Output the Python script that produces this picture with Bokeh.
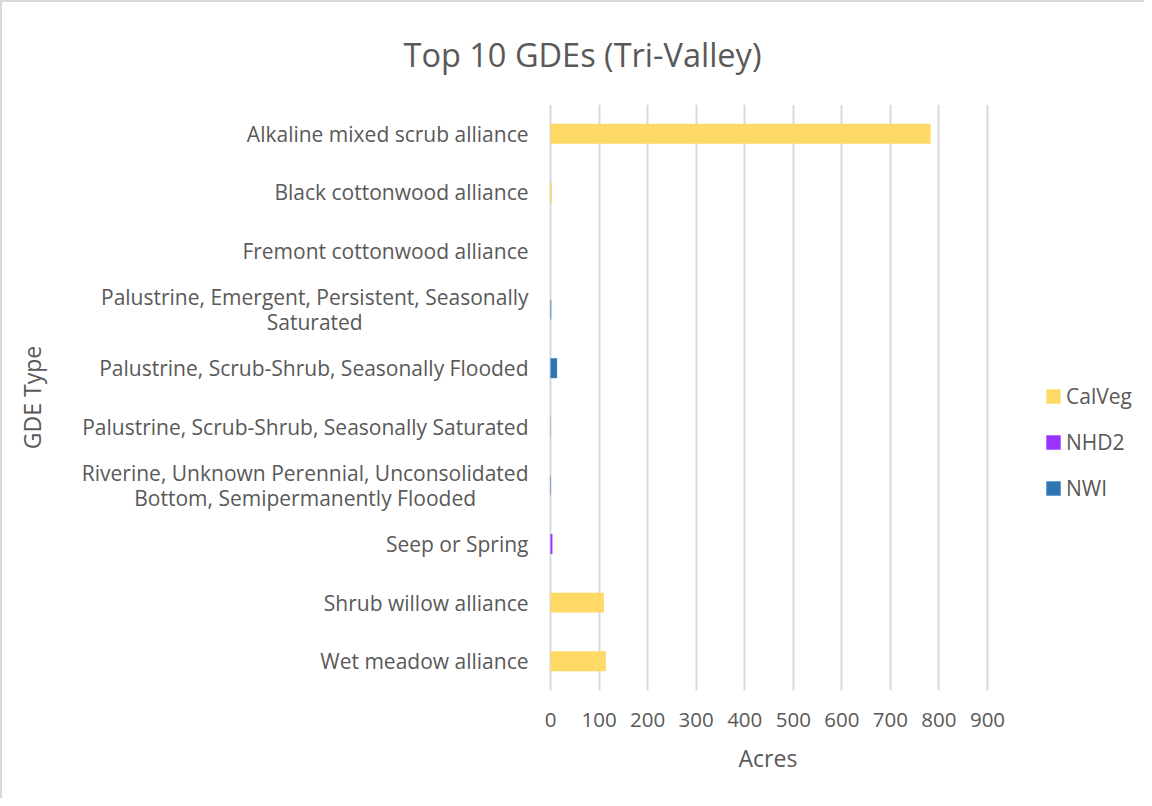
import math
from bokeh.plotting import figure
from bokeh.models import ColumnDataSource, FactorRange, Title, Legend, LegendItem, FixedTicker, Label
from bokeh.embed import file_html
from bokeh.resources import INLINE

categories = [
    "Alkaline mixed scrub alliance",
    "Black cottonwood alliance",
    "Fremont cottonwood alliance",
    "Palustrine, Emergent, Persistent, Seasonally\nSaturated",
    "Palustrine, Scrub-Shrub, Seasonally Flooded",
    "Palustrine, Scrub-Shrub, Seasonally Saturated",
    "Riverine, Unknown Perennial, Unconsolidated\nBottom, Semipermanently Flooded",
    "Seep or Spring",
    "Shrub willow alliance",
    "Wet meadow alliance",
]
calveg = [783, 3, 0.5, 0, 0, 0, 0, 0, 110, 114]
nhd2 = [0, 0, 0, 0, 0, 0, 0, 4, 0, 0]
nwi = [0, 0, 0, 1.5, 13.5, 0.5, 1, 0, 0, 0]
series = ["CalVeg", "NHD2", "NWI"]
colors = ["#FFD966", "#9933FF", "#2E75B6"]
x_ticks = [0, 100, 200, 300, 400, 500, 600, 700, 800, 900]

FONT = "Open Sans"
GREY = "#595959"

src = ColumnDataSource(dict(cat=categories, CalVeg=calveg, NHD2=nhd2, NWI=nwi))
ordered = list(reversed(categories))

# layout: the frame spans the full width; the value axis 0..900 covers 437 px
FIG_W = 1144
ZERO_PX = 548          # pixel offset of value 0 from the frame's left edge
AXIS_W = 437
UNIT = 900 / AXIS_W    # data units per pixel
x_start = -ZERO_PX * UNIT
x_end = (FIG_W - ZERO_PX) * UNIT

p = figure(
    width=FIG_W, height=798,
    y_range=FactorRange(*ordered, range_padding=0),
    x_range=(x_start, x_end),
    output_backend="svg", toolbar_location=None,
    min_border_left=0, min_border_right=0, min_border_top=101, min_border_bottom=110,
)
p.outline_line_color = None
p.background_fill_color = "white"

renderers = p.hbar_stack(series, y="cat", height=0.34, color=colors, source=src, line_color=None)

p.title = Title(text="Top 10 GDEs (Tri-Valley)", align="left", offset=ZERO_PX - 147,
                text_font=FONT, text_font_size="32.5px", text_font_style="normal",
                text_color=GREY, standoff=55)

p.xaxis.ticker = FixedTicker(ticks=x_ticks)
p.xaxis.axis_line_color = None
p.xaxis.major_tick_line_color = None
p.xaxis.minor_tick_line_color = None
p.xaxis.major_label_text_font = FONT
p.xaxis.major_label_text_font_size = "20.5px"
p.xaxis.major_label_text_color = GREY
p.xaxis.major_label_standoff = 16

p.add_layout(Title(text="Acres", align="left", offset=ZERO_PX + 188, text_font=FONT,
                   text_font_size="23px", text_font_style="normal", text_color=GREY,
                   standoff=20), "below")

p.yaxis.visible = False

# category labels: block right-aligned 22 px left of zero, lines centred
for c in categories:
    p.add_layout(Label(x=-22 * UNIT, y=ordered.index(c) + 0.5, text=c,
                       anchor="center_right", text_align="center",
                       text_font=FONT, text_font_size="21px", text_color=GREY,
                       text_line_height=0.91))

p.add_layout(Label(x=-(550 - 31) * UNIT, y=len(categories) / 2, text="GDE Type",
                   angle=math.pi / 2, text_align="center", text_baseline="middle",
                   text_font=FONT, text_font_size="23px", text_color=GREY))

p.xgrid.grid_line_color = "#D9D9D9"
p.xgrid.grid_line_width = 2
p.ygrid.grid_line_color = None

legend = Legend(items=[LegendItem(label=s, renderers=[r]) for s, r in zip(series, renderers)],
                location=(ZERO_PX + 494, 188), orientation="vertical", border_line_color=None,
                background_fill_alpha=0, margin=0, padding=10,
                label_text_font=FONT, label_text_font_size="21px", label_text_color=GREY,
                glyph_width=18, glyph_height=18, label_height=25, spacing=18, label_standoff=4)
p.add_layout(legend, "center")

p.styles = {"border-left": "2px solid #D9D9D9", "border-top": "2px solid #D9D9D9"}

open("out.html", "w").write(file_html(p, INLINE))
